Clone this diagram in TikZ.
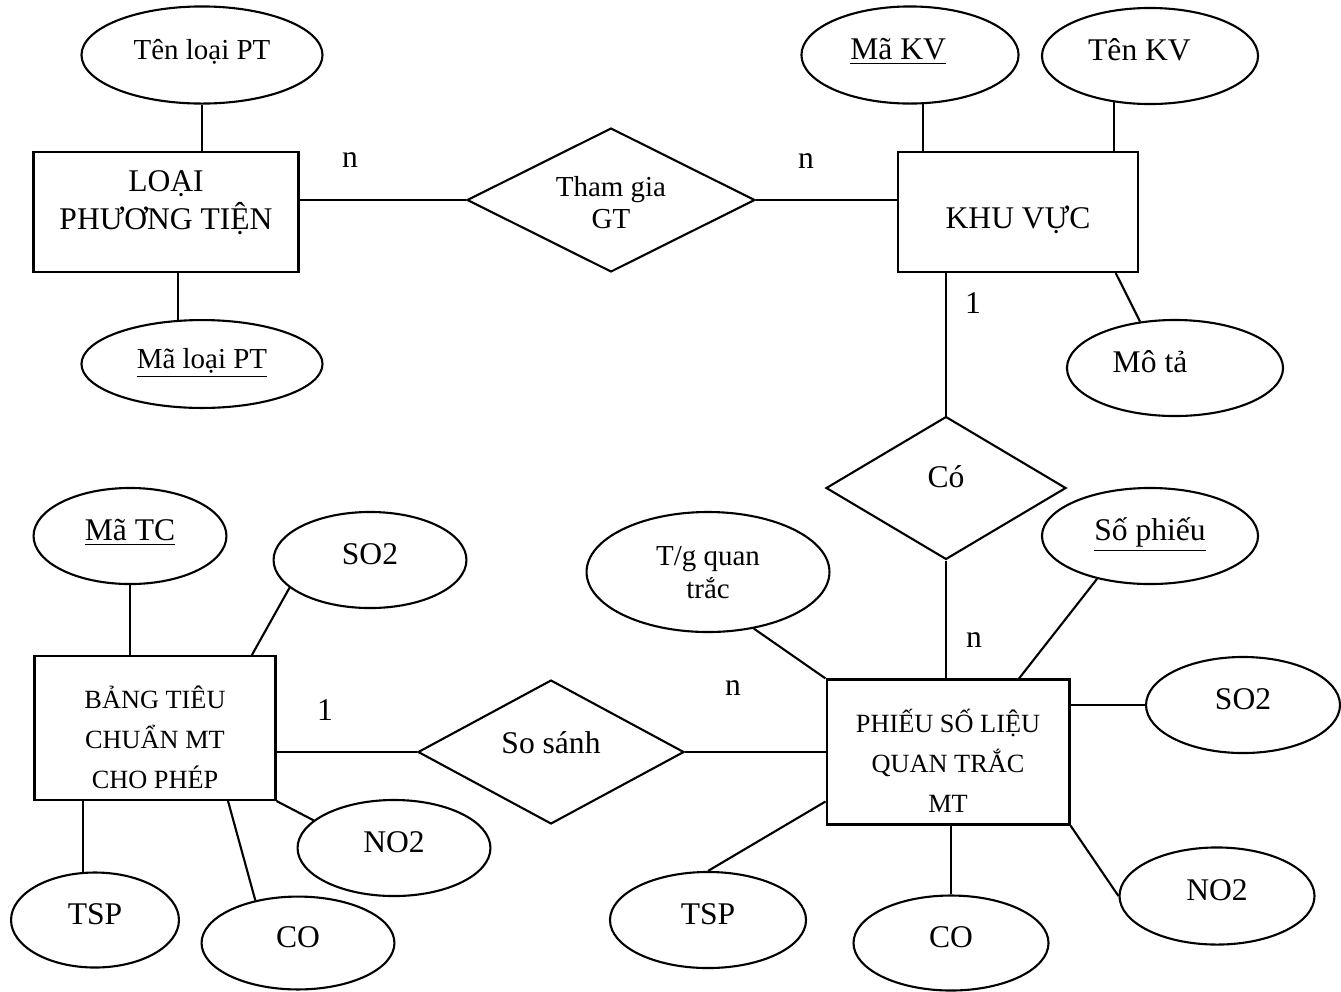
\documentclass[tikz,border=0pt]{standalone}
\usepackage{fontspec}
\setmainfont{Liberation Serif}
\usepackage{tikz}
\usetikzlibrary{shapes.geometric}

\newcommand{\boxtext}[4]{\raisebox{#1}[0pt][0pt]{\fontsize{#2}{#3}\selectfont\begin{tabular}{@{}c@{}}#4\end{tabular}}}

\begin{document}
\begin{tikzpicture}[x=0.38pt,y=-0.38pt,line width=0.8pt,
   entity/.style={draw,rectangle,inner sep=0pt},
   relation/.style={draw,diamond,inner sep=0pt},
   attr/.style={draw,ellipse,inner sep=0pt,font=\fontsize{12}{14}\selectfont,text height=1.2ex,text depth=.5ex},
   card/.style={inner sep=0pt,font=\fontsize{12}{14}\selectfont}]

   \useasboundingbox (0,0) rectangle (1341,991);

   \node[entity,minimum width=100.7pt,minimum height=45.6pt] (loai) at (166,212) {\boxtext{0.4pt}{12}{13.7}{LOẠI\\PHƯƠNG TIỆN}};
   \node[entity,minimum width=91.2pt,minimum height=45.6pt] (khuvuc) at (1018,212) {\boxtext{-6.5pt}{12}{14}{KHU VỰC}};
   \node[entity,minimum width=91.6pt,minimum height=54.7pt] (bang) at (155,728) {\boxtext{-7.4pt}{10}{15.2}{BẢNG TIÊU\\CHUẨN MT\\CHO PHÉP}};
   \node[entity,minimum width=92.3pt,minimum height=55.1pt] (phieu) at (948,752) {\boxtext{-7.4pt}{10}{15.2}{PHIẾU SỐ LIỆU\\QUAN TRẮC\\MT}};

   \node[relation,minimum width=109.4pt,minimum height=54.7pt] (thamgia) at (611,200) {\boxtext{-5pt}{11}{12.5}{Tham gia\\GT}};
   \node[relation,minimum width=91.2pt,minimum height=54.3pt] (co) at (946,488) {\boxtext{0pt}{12}{14}{Có}};
   \node[relation,minimum width=101.1pt,minimum height=54.7pt] (sosanh) at (551,752) {\boxtext{-0.8pt}{12}{14}{So sánh}};

   \node[attr,minimum width=91.6pt,minimum height=36.9pt,font=\fontsize{11}{13}\selectfont] (tenloai) at (202,55) {Tên loại PT};
   \node[attr,minimum width=91.6pt,minimum height=33.4pt,font=\fontsize{11}{13}\selectfont] (maloai) at (202,364) {\underline{Mã loại PT}};
   \node[attr,minimum width=82.5pt,minimum height=36.9pt] (makv) at (910,55) {\underline{Mã KV}\hspace*{9pt}};
   \node[attr,minimum width=82.1pt,minimum height=36.5pt] (tenkv) at (1150,56) {Tên KV\hspace*{8pt}};
   \node[attr,minimum width=82.1pt,minimum height=36.5pt] (mota) at (1175,368) {Mô tả\hspace*{19pt}};
   \node[attr,minimum width=73.3pt,minimum height=36.5pt] (matc) at (130,536) {\underline{Mã TC}};
   \node[attr,minimum width=73.3pt,minimum height=36.5pt] (so2a) at (370,560) {SO2};
   \node[attr,minimum width=73.3pt,minimum height=36.5pt] (no2a) at (394,848) {NO2};
   \node[attr,minimum width=63.8pt,minimum height=36.1pt] (tspa) at (95,920) {TSP};
   \node[attr,minimum width=73.3pt,minimum height=35.3pt] (coa) at (298,943) {CO};
   \node[attr,minimum width=92.3pt,minimum height=45.6pt,text height=,text depth=] (tg) at (708,572) {\boxtext{-4.2pt}{11}{12.5}{T/g quan\\trắc}};
   \node[attr,minimum width=82.1pt,minimum height=36.5pt] (sophieu) at (1150,536) {\underline{Số phiếu}};
   \node[attr,minimum width=73.7pt,minimum height=36.5pt] (so2b) at (1243,705) {SO2};
   \node[attr,minimum width=74.1pt,minimum height=36.9pt] (no2b) at (1217,896) {NO2};
   \node[attr,minimum width=74.1pt,minimum height=36.1pt] (cob) at (951,943) {CO};
   \node[attr,minimum width=74.5pt,minimum height=36.5pt] (tspb) at (708,920) {TSP};

   \node[card] (c_1) at (350,160) {n};
   \node[card] (c_2) at (806,161) {n};
   \node[card] (c_3) at (973,303) {1};
   \node[card] (c_4) at (974,640) {n};
   \node[card] (c_5) at (325,710) {1};
   \node[card] (c_6) at (733,688) {n};

   \path
   (tenloai.south) edge (tenloai.south |- loai.north)
   (maloai.119) edge (maloai.119 |- loai.south)
   (thamgia.west) edge (thamgia.west -| loai.east)
   (thamgia.east) edge (thamgia.east -| khuvuc.west)
   (makv.285) edge (makv.285 |- khuvuc.north)
   (tenkv.232) edge (tenkv.232 |- khuvuc.north)
   (khuvuc.328) edge (mota.127)
   (co.north) edge (co.north |- khuvuc.south)
   (co.south) edge (co.south |- phieu.north)
   (tg.309) edge (phieu.north west)
   (sophieu.219) edge (phieu.46)
   (so2b.west) edge (so2b.west -| phieu.east)
   (phieu.south east) edge (no2b.west)
   (cob.north) edge (cob.north |- phieu.south)
   (tspb.north) edge (phieu.202)
   (sosanh.east) edge (phieu.west)
   (sosanh.west) edge (sosanh.west -| bang.east)
   (matc.south) edge (matc.south |- bang.north)
   (so2a.199) edge (bang.37)
   (bang.south east) edge (no2a.161)
   (tspa.104) edge (tspa.104 |- bang.south)
   (bang.315) edge (coa.135);
\end{tikzpicture}
\end{document}
